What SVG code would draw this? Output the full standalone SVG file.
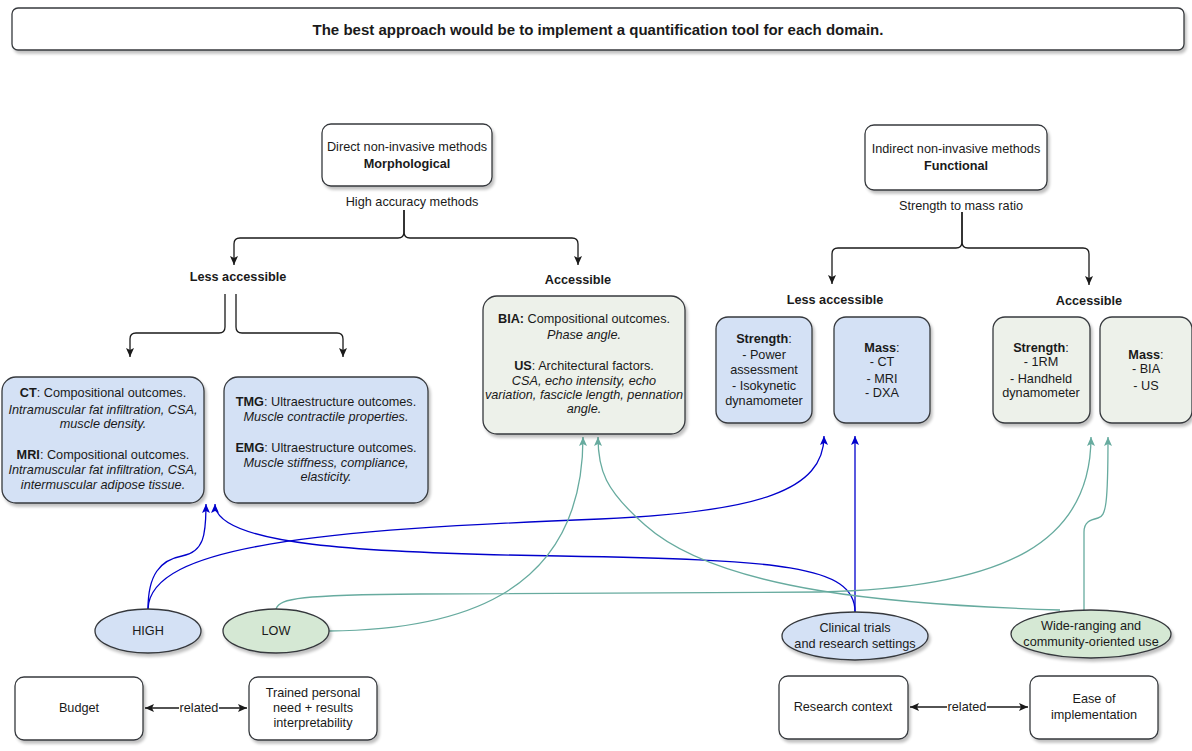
<svg xmlns="http://www.w3.org/2000/svg" width="1192" height="751" viewBox="0 0 1192 751">
  <style>
    text { font-family: "Liberation Sans", Arial, sans-serif; font-size: 12.7px; fill: #1a1a1a; text-anchor: middle; }
    .b { font-weight: bold; }
    .i { font-style: italic; }
    .title { font-size: 15px; font-weight: bold; }
    .box { stroke: #36393d; stroke-width: 1.3; filter: url(#shadow); }
    .white { fill: #ffffff; }
    .blue { fill: #d4e1f5; }
    .grey { fill: #edf1ea; }
    .green { fill: #d5e8d4; }
    .ln { fill: none; stroke-width: 1.3; }
    .k { stroke: #1a1a1a; marker-end: url(#ak); }
    .bl { stroke: #0000cc; marker-end: url(#ab); }
    .tl { stroke: #67ab9f; marker-end: url(#at); }
    .rel { stroke: #1a1a1a; marker-start: url(#ak2); marker-end: url(#ak2); }
  </style>
  <defs>
    <filter id="shadow" x="-10%" y="-10%" width="130%" height="140%">
      <feGaussianBlur in="SourceAlpha" stdDeviation="1.5"/>
      <feOffset dx="2" dy="3" result="o"/>
      <feComponentTransfer><feFuncA type="linear" slope="0.25"/></feComponentTransfer>
      <feMerge><feMergeNode/><feMergeNode in="SourceGraphic"/></feMerge>
    </filter>
    <marker id="ak" markerUnits="userSpaceOnUse" markerWidth="10" markerHeight="10" refX="9" refY="4" orient="auto">
      <path d="M0,0 L9,4 L0,8 L2,4 z" fill="#1a1a1a"/>
    </marker>
    <marker id="ak2" markerUnits="userSpaceOnUse" markerWidth="10" markerHeight="10" refX="9" refY="4" orient="auto-start-reverse">
      <path d="M0,0 L9,4 L0,8 L2,4 z" fill="#1a1a1a"/>
    </marker>
    <marker id="ab" markerUnits="userSpaceOnUse" markerWidth="10" markerHeight="10" refX="9" refY="4" orient="auto">
      <path d="M0,0 L9,4 L0,8 L2,4 z" fill="#0000cc"/>
    </marker>
    <marker id="at" markerUnits="userSpaceOnUse" markerWidth="10" markerHeight="10" refX="9" refY="4" orient="auto">
      <path d="M0,0 L9,4 L0,8 L2,4 z" fill="#67ab9f"/>
    </marker>
  </defs>

  <rect width="1192" height="751" fill="#ffffff"/>

  <!-- connectors -->
  <g id="connectors">
    <!-- morphological split -->
    <path class="ln k" d="M404,210 V232 Q404,238 398,238 H240 Q234,238 234,244 V265"/>
    <path class="ln k" d="M404,210 V232 Q404,238 410,238 H572 Q578,238 578,244 V265"/>
    <!-- less accessible split -->
    <path class="ln k" d="M225,294 V327 Q225,333 219,333 H136 Q130,333 130,339 V357"/>
    <path class="ln k" d="M236,294 V327 Q236,333 242,333 H337 Q343,333 343,339 V357"/>
    <!-- functional split -->
    <path class="ln k" d="M962,212 V242 Q962,248 956,248 H838 Q832,248 832,254 V284"/>
    <path class="ln k" d="M962,212 V242 Q962,248 968,248 H1083 Q1089,248 1089,254 V285"/>

    <!-- HIGH -->
    <path class="ln bl" d="M148,609 C148,575 160,560 182,556 C204,552 206,535 206,504"/>
    <path class="ln bl" d="M148,609 C150,545 320,530 600,519 C760,512 824,490 824,436"/>
    <!-- clinical trials -->
    <path class="ln bl" d="M855,612 V436"/>
    <path class="ln bl" d="M855,612 C855,565 780,560 560,556 C360,553 215,545 215,504"/>
    <!-- LOW -->
    <path class="ln tl" d="M329,631 C450,630 583,600 583,437"/>
    <path class="ln tl" d="M276,609 C280,598 300,595 420,594 L820,592 C1010,588 1091,540 1091,437"/>
    <!-- wide-ranging -->
    <path class="ln tl" d="M1084,610 V532 C1084,522 1090,520 1098,518 C1106,516 1108,505 1108,437"/>
    <path class="ln tl" d="M1060,610 C900,605 720,592 645,525 C605,490 598,470 598,437"/>

    <!-- related pairs -->
    <path class="ln rel" d="M145,708 H247"/>
    <rect x="179" y="701" width="40" height="13" fill="#ffffff"/>
    <text x="199" y="712">related</text>
    <path class="ln rel" d="M910,707 H1028"/>
    <rect x="947" y="700" width="40" height="13" fill="#ffffff"/>
    <text x="967" y="711">related</text>
  </g>

  <g id="banner">
    <rect class="box white" x="12" y="8" width="1172" height="42" rx="6"/>
    <text class="title" x="598" y="35">The best approach would be to implement a quantification tool for each domain.</text>
  </g>

  <g id="morphological">
    <rect class="box white" x="322" y="124" width="170" height="62" rx="9"/>
    <text x="407" y="151">Direct non-invasive methods</text>
    <text class="b" x="407" y="168">Morphological</text>
  </g>
  <g id="high-accuracy"><text x="412" y="206">High accuracy methods</text></g>
  <g id="less-accessible-1"><text class="b" x="238" y="281">Less accessible</text></g>
  <g id="accessible-1"><text class="b" x="578" y="284">Accessible</text></g>

  <g id="functional">
    <rect class="box white" x="865" y="125" width="182" height="65" rx="9"/>
    <text x="956" y="153">Indirect non-invasive methods</text>
    <text class="b" x="956" y="170">Functional</text>
  </g>
  <g id="ratio"><text x="961" y="210">Strength to mass ratio</text></g>
  <g id="less-accessible-2"><text class="b" x="835" y="304">Less accessible</text></g>
  <g id="accessible-2"><text class="b" x="1089" y="305">Accessible</text></g>

  <g id="ct-mri">
    <rect class="box blue" x="2" y="377" width="202" height="126" rx="14"/>
    <text x="103" y="397"><tspan class="b">CT</tspan>: Compositional outcomes.</text>
    <text class="i" x="103" y="414">Intramuscular fat infiltration, CSA,</text>
    <text class="i" x="103" y="428">muscle density.</text>
    <text x="103" y="459"><tspan class="b">MRI</tspan>: Compositional outcomes.</text>
    <text class="i" x="103" y="474">Intramuscular fat infiltration, CSA,</text>
    <text class="i" x="103" y="489">intermuscular adipose tissue.</text>
  </g>

  <g id="tmg-emg">
    <rect class="box blue" x="224" y="377" width="204" height="126" rx="14"/>
    <text x="326" y="406"><tspan class="b">TMG</tspan>: Ultraestructure outcomes.</text>
    <text class="i" x="326" y="421">Muscle contractile properties.</text>
    <text x="326" y="452"><tspan class="b">EMG</tspan>: Ultraestructure outcomes.</text>
    <text class="i" x="326" y="467">Muscle stiffness, compliance,</text>
    <text class="i" x="326" y="481">elasticity.</text>
  </g>

  <g id="bia-us">
    <rect class="box grey" x="483" y="296" width="202" height="138" rx="14"/>
    <text x="584" y="323"><tspan class="b">BIA:</tspan> Compositional outcomes.</text>
    <text class="i" x="584" y="339">Phase angle.</text>
    <text x="584" y="370"><tspan class="b">US</tspan>: Architectural factors.</text>
    <text class="i" x="584" y="385">CSA, echo intensity, echo</text>
    <text class="i" x="584" y="399">variation, fascicle length, pennation</text>
    <text class="i" x="584" y="413">angle.</text>
  </g>

  <g id="strength-less">
    <rect class="box blue" x="716" y="317" width="96" height="106" rx="12"/>
    <text x="764" y="343"><tspan class="b">Strength</tspan>:</text>
    <text x="764" y="359">- Power</text>
    <text x="764" y="374">assessment</text>
    <text x="764" y="390">- Isokynetic</text>
    <text x="764" y="405">dynamometer</text>
  </g>

  <g id="mass-less">
    <rect class="box blue" x="834" y="317" width="96" height="106" rx="12"/>
    <text x="882" y="352"><tspan class="b">Mass</tspan>:</text>
    <text x="882" y="366">- CT</text>
    <text x="882" y="383">- MRI</text>
    <text x="882" y="397">- DXA</text>
  </g>

  <g id="strength-acc">
    <rect class="box grey" x="993" y="317" width="97" height="106" rx="12"/>
    <text x="1041" y="352"><tspan class="b">Strength</tspan>:</text>
    <text x="1041" y="366">- 1RM</text>
    <text x="1041" y="383">- Handheld</text>
    <text x="1041" y="397">dynamometer</text>
  </g>

  <g id="mass-acc">
    <rect class="box grey" x="1100" y="317" width="92" height="106" rx="12"/>
    <text x="1146" y="359"><tspan class="b">Mass</tspan>:</text>
    <text x="1146" y="373">- BIA</text>
    <text x="1146" y="390">- US</text>
  </g>

  <g id="high">
    <ellipse class="box blue" cx="148" cy="631" rx="53" ry="22"/>
    <text x="148" y="635">HIGH</text>
  </g>
  <g id="low">
    <ellipse class="box green" cx="276" cy="631" rx="53" ry="22"/>
    <text x="276" y="635">LOW</text>
  </g>
  <g id="clinical">
    <ellipse class="box blue" cx="855" cy="636" rx="73" ry="24"/>
    <text x="855" y="632">Clinical trials</text>
    <text x="855" y="648">and research settings</text>
  </g>
  <g id="community">
    <ellipse class="box green" cx="1091" cy="634" rx="80" ry="24"/>
    <text x="1091" y="630">Wide-ranging and</text>
    <text x="1091" y="646">community-oriented use</text>
  </g>

  <g id="budget">
    <rect class="box white" x="15" y="677" width="128" height="63" rx="9"/>
    <text x="79" y="712">Budget</text>
  </g>
  <g id="trained">
    <rect class="box white" x="249" y="677" width="128" height="63" rx="9"/>
    <text x="313" y="697">Trained personal</text>
    <text x="313" y="712">need + results</text>
    <text x="313" y="727">interpretability</text>
  </g>
  <g id="research">
    <rect class="box white" x="779" y="676" width="129" height="63" rx="9"/>
    <text x="843" y="711">Research context</text>
  </g>
  <g id="ease">
    <rect class="box white" x="1030" y="676" width="128" height="63" rx="9"/>
    <text x="1094" y="703">Ease of</text>
    <text x="1094" y="719">implementation</text>
  </g>
</svg>
